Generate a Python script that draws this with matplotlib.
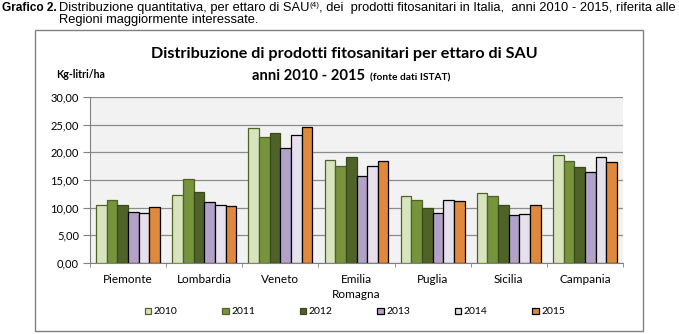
import matplotlib.pyplot as plt
import numpy as np
from matplotlib.patches import Rectangle
from matplotlib.ticker import FuncFormatter, FixedLocator

# data (kg-litri/ha)
regions = ['Piemonte', 'Lombardia', 'Veneto', 'Emilia\nRomagna', 'Puglia', 'Sicilia', 'Campania']
years = ['2010', '2011', '2012', '2013', '2014', '2015']
v2010 = [10.5, 12.3, 24.4, 18.6, 12.1, 12.65, 19.6]
v2011 = [11.3, 15.2, 22.8, 17.5, 11.4, 12.1, 18.4]
v2012 = [10.5, 12.9, 23.5, 19.2, 10.0, 10.5, 17.4]
v2013 = [9.2, 11.0, 20.8, 15.7, 9.0, 8.7, 16.4]
v2014 = [9.0, 10.5, 23.2, 17.5, 11.4, 8.9, 19.2]
v2015 = [10.1, 10.3, 24.6, 18.4, 11.2, 10.5, 18.25]
series = [v2010, v2011, v2012, v2013, v2014, v2015]

colors = ['#d7e4bd', '#77933c', '#4f6228', '#b3a2c7', '#e6e0ec', '#e0883b']
edges = ['#4f6228', '#4f6228', '#3a4a1c', '#000000', '#000000', '#000000']

W, H = 679, 334
fig = plt.figure(figsize=(W / 100, H / 100), dpi=100)
renderer = fig.canvas.get_renderer()

# header text above the chart box (condensed look: font size fitted to the width)
hfont = 'Liberation Sans'
line1 = ['Distribuzione quantitativa, per ettaro di SAU', '(4)',
         ', dei  prodotti fitosanitari in Italia,  anni 2010 - 2015, riferita alle']


def text_w(s, size, weight='normal'):
    t = fig.text(0, 0, s, fontsize=size, family=hfont, fontweight=weight)
    w = t.get_window_extent(renderer).width
    t.remove()
    return w


full = text_w(line1[0], 10) + text_w(line1[1], 6.3) + text_w(line1[2], 10)
hs = 10 * (674 - 59) / full
bs = 10 * 55 / text_w('Grafico 2.', 10, 'bold')


def put(x, y, s, size, weight='normal'):
    t = fig.text(x / W, 1 - y / H, s, va='baseline', ha='left', family=hfont,
                 fontsize=size, fontweight=weight)
    return t.get_window_extent(renderer).x1


put(2, 11, 'Grafico 2.', bs, 'bold')
x = put(59, 11, line1[0], hs)
x = put(x, 7, line1[1], hs * 0.63)
put(x, 11, line1[2], hs)
put(59, 23, 'Regioni maggiormente interessate.', hs)

# outer chart frame
fig.patches.append(Rectangle((35 / W, 1 - 331 / H), (643 - 35) / W, (331 - 30) / H,
                             transform=fig.transFigure, fill=False, edgecolor='#808080', lw=1))

# plot area
ax = fig.add_axes([90 / W, 1 - 263 / H, (623 - 90) / W, (263 - 97) / H])
ax.set_facecolor('#f2f2f2')

xpos = np.arange(len(regions))
bw = 0.14
for i, (vals, c, e) in enumerate(zip(series, colors, edges)):
    ax.bar(xpos + (i - 2.5) * bw, vals, bw, color=c, edgecolor=e, linewidth=0.9,
           label=years[i], zorder=3)

ax.set_xlim(-0.5, len(regions) - 0.5)
ax.set_ylim(0, 30)
ax.set_yticks(np.arange(0, 31, 5))
ax.yaxis.set_major_formatter(FuncFormatter(lambda v, p: f'{v:.2f}'.replace('.', ',')))
ax.grid(axis='y', color='#8c8c8c', lw=0.9, zorder=0)
ax.set_axisbelow(True)

ax.set_xticks(xpos)
ax.set_xticklabels(regions, fontsize=8.5, family='Lato', linespacing=1.45)
ax.xaxis.set_minor_locator(FixedLocator(np.arange(-0.5, len(regions), 1)))
ax.tick_params(axis='x', which='major', length=0, pad=8)
ax.tick_params(axis='x', which='minor', length=3, color='#808080')
ax.tick_params(axis='y', length=5, color='#808080', labelsize=8, pad=3)
for lab in ax.get_yticklabels():
    lab.set_family('Lato')

for s in ['top', 'right']:
    ax.spines[s].set_visible(False)
ax.spines['left'].set_color('#808080')
ax.spines['bottom'].set_color('#808080')

# titles
fig.text(344 / W, 1 - 58 / H, 'Distribuzione di prodotti fitosanitari per ettaro di SAU',
         ha='center', va='baseline', fontsize=11.6, fontweight='bold', family='Lato')
fig.text(252 / W, 1 - 80 / H, 'anni 2010 - 2015', ha='left', va='baseline',
         fontsize=10.6, fontweight='bold', family='Lato')
fig.text(370 / W, 1 - 80 / H, '(fonte dati ISTAT)', ha='left', va='baseline',
         fontsize=7.3, fontweight='bold', family='Lato')
fig.text(56 / W, 1 - 78 / H, 'Kg-litri/ha', ha='left', va='baseline',
         fontsize=7.6, fontweight='bold', family='Lato')

leg = fig.legend(loc='center', bbox_to_anchor=(355 / W, 1 - 312 / H), ncol=6, frameon=False,
                 handlelength=0.6, handleheight=0.6, handletextpad=0.25, columnspacing=4.3,
                 prop={'family': 'Lato', 'size': 7.5})

fig.savefig('out.png', dpi=100)
